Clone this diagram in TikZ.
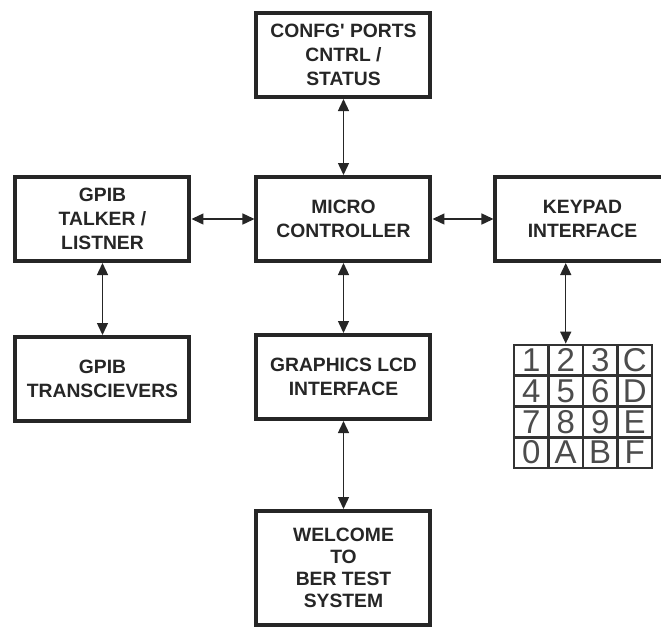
\documentclass[tikz,border=0pt]{standalone}
\usepackage{fontspec}
\setmainfont{Liberation Sans}
\usepackage{tikz}
\usetikzlibrary{positioning,arrows.meta}

\begin{document}
\begin{tikzpicture}[
  x=0.5pt, y=-0.5pt,
  font=\fontsize{9.65}{12}\selectfont\bfseries,
  bloque/.style={rectangle, draw=black!85, line width=2pt, minimum width=87pt, minimum height=42pt, inner sep=1pt, align=center, text=black!85},
  tecla/.style={rectangle, draw=black!80, line width=1.4pt, minimum width=17.25pt, minimum height=15.4pt, inner sep=0pt, font=\fontsize{16.5}{16.5}\selectfont, text=black!70},
  flecha/.style={{Triangle[length=6pt,width=5.5pt]}-{Triangle[length=6pt,width=5.5pt]}, draw=black!85, line width=0.7pt}
]
\useasboundingbox (0,0) rectangle (661,629);
\clip (0,0) rectangle (661,629);
\node[bloque] (micro) at (343.5,219) {MICRO\\CONTROLLER};
\node[bloque, above=38pt of micro] (config) {CONFG\textquotesingle{} PORTS\\CNTRL /\\STATUS};
\node[bloque, left=31.5pt of micro] (gpib) {GPIB\\TALKER /\\LISTNER};
\node[bloque, right=30.5pt of micro] (keypad) {KEYPAD\\INTERFACE};
\node[bloque, below=35pt of micro] (lcd) {GRAPHICS LCD\\INTERFACE};
\node[bloque, below=44pt of lcd, minimum height=57pt, font=\fontsize{9.65}{11}\selectfont\bfseries] (welcome) {WELCOME\\TO\\BER TEST\\SYSTEM};
\node[bloque, below=36pt of gpib] (transc) {GPIB\\TRANSCIEVERS};
\node[tecla] (k11) at (531.25,360.4) {1};
\node[tecla] (k12) at (565.75,360.4) {2};
\node[tecla] (k13) at (600.25,360.4) {3};
\node[tecla] (k14) at (634.75,360.4) {C};
\node[tecla] (k21) at (531.25,391.1) {4};
\node[tecla] (k22) at (565.75,391.1) {5};
\node[tecla] (k23) at (600.25,391.1) {6};
\node[tecla] (k24) at (634.75,391.1) {D};
\node[tecla] (k31) at (531.25,421.9) {7};
\node[tecla] (k32) at (565.75,421.9) {8};
\node[tecla] (k33) at (600.25,421.9) {9};
\node[tecla] (k34) at (634.75,421.9) {E};
\node[tecla] (k41) at (531.25,452.6) {0};
\node[tecla] (k42) at (565.75,452.6) {A};
\node[tecla] (k43) at (600.25,452.6) {B};
\node[tecla] (k44) at (634.75,452.6) {F};
\draw[flecha] (config) -- (micro);
\draw[flecha] (gpib) -- (micro);
\draw[flecha] (micro) -- (keypad);
\draw[flecha] (micro) -- (lcd);
\draw[flecha] (lcd) -- (welcome);
\draw[flecha] (gpib) -- (transc);
\draw[flecha] (keypad.south -| k12.north) -- (k12.north);
\end{tikzpicture}
\end{document}
